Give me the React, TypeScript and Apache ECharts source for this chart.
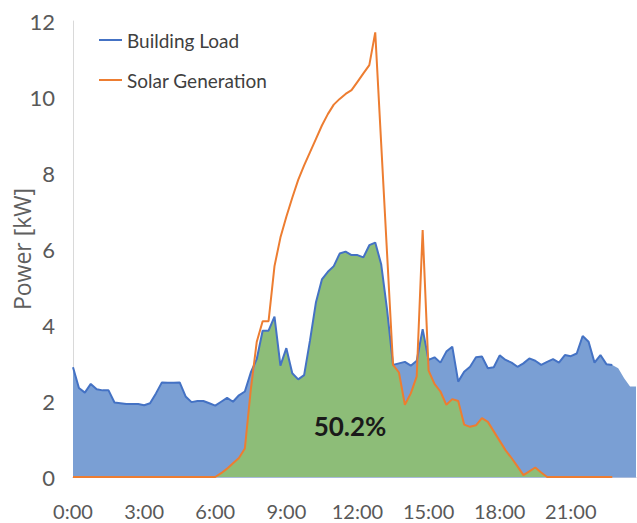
import React, { useEffect, useRef } from "react";
import * as echarts from "echarts";

const categories: string[] = [];
for (let i = 0; i < 96; i++) {
  const h = Math.floor(i / 4);
  const m = (i % 4) * 15;
  categories.push(`${h}:${m === 0 ? "00" : m}`);
}

const buildingLoad = [
  2.89, 2.34, 2.22, 2.45, 2.31, 2.28, 2.28, 1.96, 1.94, 1.92,
  1.92, 1.92, 1.89, 1.94, 2.2, 2.49, 2.48, 2.48, 2.49, 2.12,
  1.97, 2.0, 2.0, 1.94, 1.88, 1.98, 2.08, 1.98, 2.15, 2.25,
  2.75, 3.1, 3.85, 3.85, 4.22, 2.93, 3.39, 2.73, 2.57, 2.68,
  3.6, 4.6, 5.2, 5.4, 5.55, 5.88, 5.93, 5.84, 5.84, 5.78,
  6.1, 6.17, 5.6, 4.4, 2.95, 2.99, 3.03, 2.93, 3.06, 3.89,
  3.08, 3.15, 3.01, 3.3, 3.43, 2.51, 2.77, 2.9, 3.15, 3.17,
  2.86, 2.89, 3.2, 3.08, 3.01, 2.9, 2.99, 3.12, 3.06, 2.95,
  3.03, 3.1, 3.01, 3.21, 3.18, 3.25, 3.71, 3.56, 3.01, 3.21,
  2.97, 2.95, 2.86, 2.6, 2.38, 2.38,
];

const solarGeneration = [
  0, 0, 0, 0, 0, 0, 0, 0, 0, 0,
  0, 0, 0, 0, 0, 0, 0, 0, 0, 0,
  0, 0, 0, 0, 0, 0.1, 0.22, 0.36, 0.5, 0.75,
  2.3, 3.55, 4.1, 4.1, 5.55, 6.3, 6.85, 7.35, 7.82, 8.2,
  8.55, 8.9, 9.25, 9.55, 9.8, 9.95, 10.08, 10.18, 10.4, 10.62,
  10.84, 11.7, 8.78, 5.87, 2.95, 2.75, 1.9, 2.2, 2.65, 6.5,
  2.8, 2.45, 2.25, 1.9, 2.05, 2.0, 1.38, 1.32, 1.36, 1.55,
  1.45, 1.2, 0.95, 0.7, 0.5, 0.28, 0.05, 0.15, 0.25, 0.12,
  0, 0, 0, 0, 0, 0, 0, 0, 0, 0,
  0, 0,
];

const yTicks = { min: 0, max: 12, interval: 2 };
const selfShareLabel = "50.2%";

const FONT = '"Lato", sans-serif';

export default function App() {
  const ref = useRef<HTMLDivElement>(null);
  useEffect(() => {
    if (!ref.current) return;
    const chart = echarts.init(ref.current, null, { renderer: "svg" });
    const selfConsumed = buildingLoad.map((v, i) =>
      Math.min(v, solarGeneration[i] ?? 0)
    );
    const loadLine = buildingLoad.map((v, i) => (i <= 91 ? v : null));
    chart.setOption({
      animation: false,
      backgroundColor: "#ffffff",
      grid: {
        left: 73,
        right: 1,
        top: 21,
        bottom: 46,
        containLabel: false,
        outerBoundsMode: "none",
      },
      legend: {
        data: ["Building Load", "Solar Generation"],
        orient: "vertical",
        left: 99,
        top: 29,
        padding: 0,
        icon: "rect",
        itemWidth: 23,
        itemHeight: 2,
        itemGap: 18,
        textStyle: {
          fontFamily: FONT,
          fontSize: 19,
          color: "#404040",
          lineHeight: 22,
        },
      },
      xAxis: {
        type: "category",
        data: categories,
        boundaryGap: false,
        axisLine: { show: true, lineStyle: { color: "#a9bbdb", width: 1 } },
        axisTick: { show: false },
        axisLabel: {
          interval: 11,
          fontFamily: FONT,
          fontSize: 20,
          color: "#595959",
          margin: 24,
        },
        splitLine: { show: false },
      },
      yAxis: {
        type: "value",
        min: yTicks.min,
        max: yTicks.max,
        interval: yTicks.interval,
        name: "Power [kW]",
        nameLocation: "middle",
        nameGap: 40,
        nameMoveOverlap: false,
        nameTextStyle: {
          fontFamily: '"Open Sans", sans-serif',
          fontSize: 23,
          color: "#5f5f5f",
        },
        axisLine: { show: true, lineStyle: { color: "#d9d9d9" } },
        axisTick: { show: false },
        axisLabel: {
          fontFamily: FONT,
          fontSize: 22,
          color: "#595959",
          margin: 18,
        },
        splitLine: { show: false },
      },
      series: [
        {
          name: "LoadArea",
          type: "line",
          data: buildingLoad,
          symbol: "none",
          lineStyle: { width: 0 },
          areaStyle: { color: "#7a9fd4", opacity: 1 },
          silent: true,
        },
        {
          name: "SelfConsumed",
          type: "line",
          data: selfConsumed,
          symbol: "none",
          lineStyle: { width: 0 },
          areaStyle: { color: "#8dbd78", opacity: 1 },
          silent: true,
        },
        {
          name: "Building Load",
          type: "line",
          data: loadLine,
          symbol: "none",
          itemStyle: { color: "#4472c4" },
          lineStyle: { color: "#4472c4", width: 2 },
        },
        {
          name: "Solar Generation",
          type: "line",
          data: solarGeneration,
          symbol: "none",
          itemStyle: { color: "#ed7d31" },
          lineStyle: { color: "#ed7d31", width: 2 },
        },
      ],
      graphic: [
        {
          type: "text",
          z: 100,
          x: 350,
          y: 426,
          style: {
            text: selfShareLabel,
            fontFamily: FONT,
            fontWeight: "bold",
            fontSize: 26,
            fill: "#1a1a1a",
            align: "center",
            verticalAlign: "middle",
          },
        },
      ],
    });
    return () => chart.dispose();
  }, []);
  return (
    <div
      ref={ref}
      style={{ position: "fixed", left: 0, top: 0, width: 637, height: 523 }}
    />
  );
}
